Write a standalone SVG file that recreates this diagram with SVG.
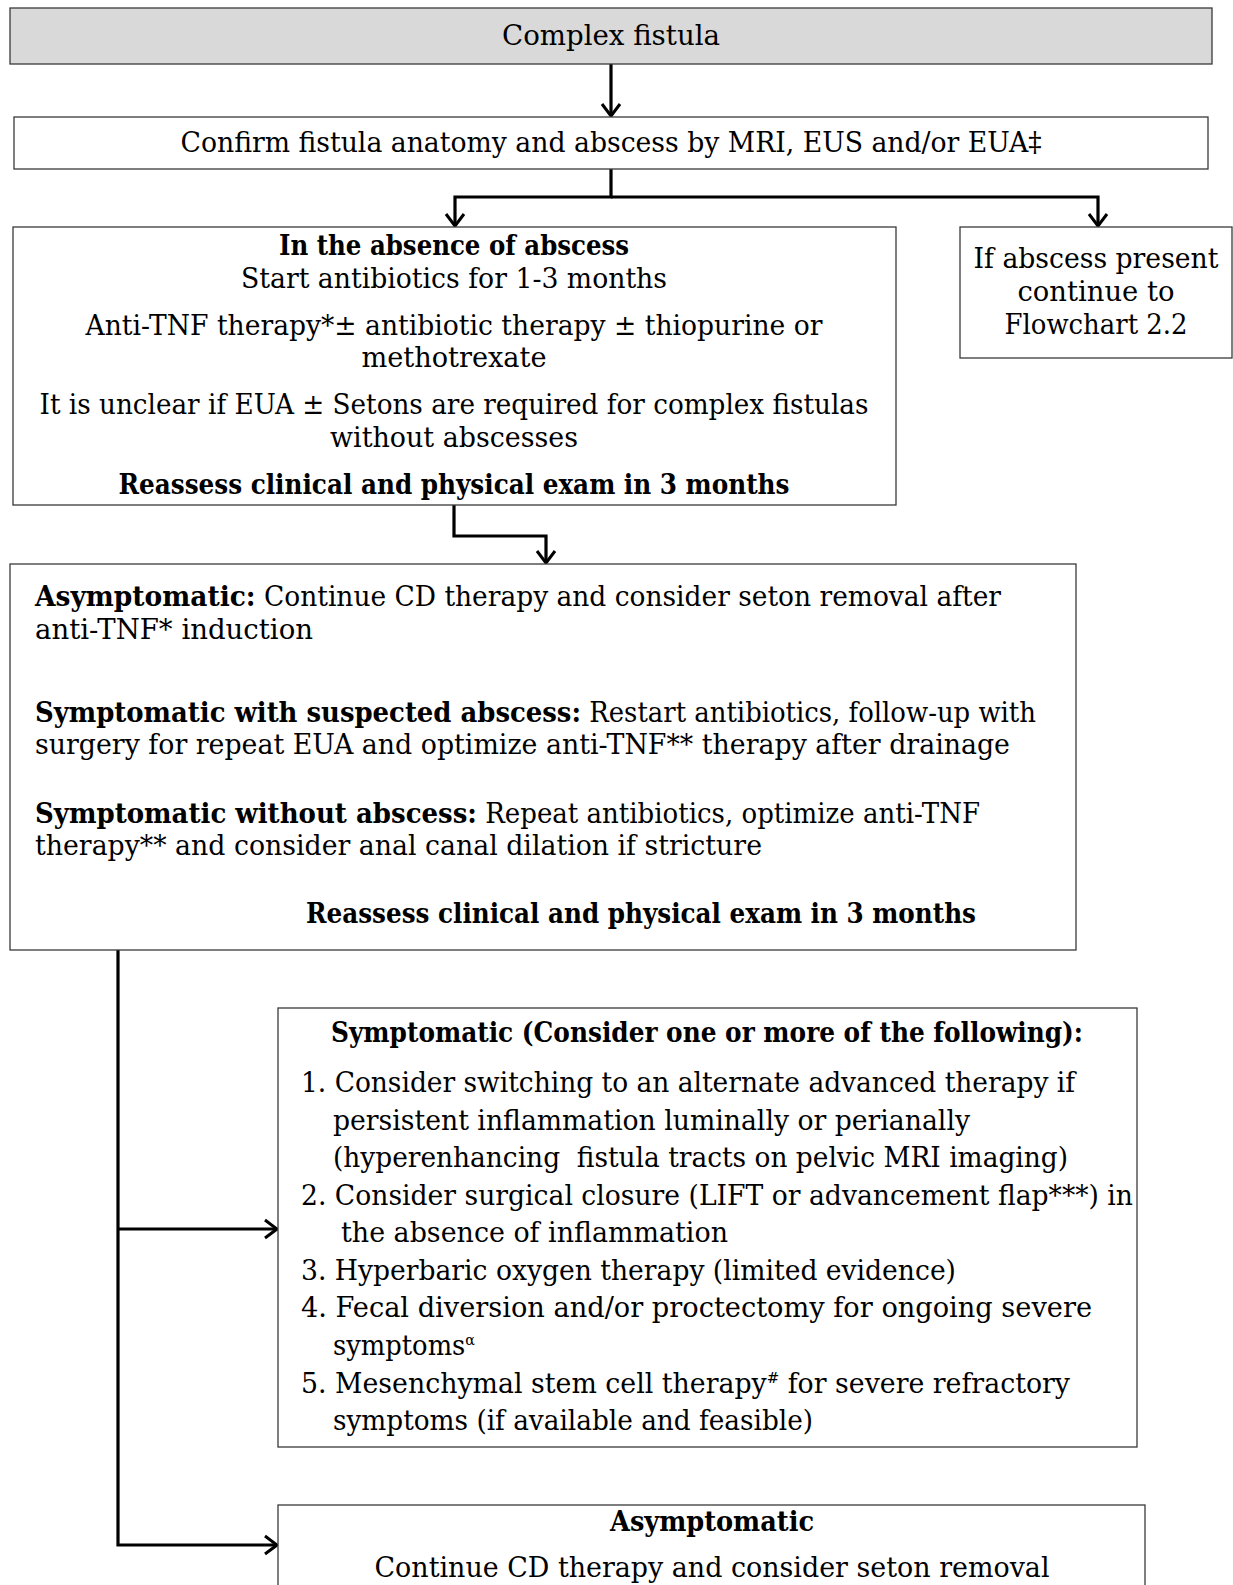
<svg xmlns="http://www.w3.org/2000/svg" width="1233" height="1585" viewBox="0 0 1233 1585">
<defs>
<style>
.box{fill:#ffffff;stroke:#3a3a3a;stroke-width:1.3}
.title{fill:#d9d9d9;stroke:#3a3a3a;stroke-width:1.3}
text{font-family:"DejaVu Serif Condensed","DejaVu Serif","Liberation Serif",serif;font-size:27px;fill:#000}
.c{text-anchor:middle}
.b{font-weight:bold}
.conn{fill:none;stroke:#000;stroke-width:3.2}
</style>
<marker id="arr" markerUnits="userSpaceOnUse" viewBox="-14 -11 16 22" refX="0" refY="0" markerWidth="16" markerHeight="22" orient="auto">
<path d="M-12,-9 L0,0 L-12,9" fill="none" stroke="#000" stroke-width="3"/>
</marker>
</defs>
<rect width="1233" height="1585" fill="#fff"/>

<g id="connectors">
<path class="conn" d="M611,64 V116" marker-end="url(#arr)"/>
<path class="conn" d="M611,169 V197 H455 V226" marker-end="url(#arr)"/>
<path class="conn" d="M611,197 H1098 V226" marker-end="url(#arr)"/>
<path class="conn" d="M454,505 V536 H546 V563" marker-end="url(#arr)"/>
<path class="conn" d="M118,950 V1545 H277" marker-end="url(#arr)"/>
<path class="conn" d="M118,1229 H277" marker-end="url(#arr)"/>
</g>

<g id="n-complex">
<rect class="title" x="10" y="8" width="1202" height="56"/>
<text class="c" x="611" y="45" font-size="28" textLength="218" lengthAdjust="spacingAndGlyphs">Complex fistula</text>
</g>

<g id="n-confirm">
<rect class="box" x="14" y="117" width="1194" height="52"/>
<text class="c" x="611" y="152" textLength="861" lengthAdjust="spacingAndGlyphs">Confirm fistula anatomy and abscess by MRI, EUS and/or EUA‡</text>
</g>

<g id="n-noabscess">
<rect class="box" x="13" y="227" width="883" height="278"/>
<text class="c b" x="454" y="255" textLength="350" lengthAdjust="spacingAndGlyphs">In the absence of abscess</text>
<text class="c" x="454" y="288" textLength="426" lengthAdjust="spacingAndGlyphs">Start antibiotics for 1-3 months</text>
<text class="c" x="454" y="335" textLength="737" lengthAdjust="spacingAndGlyphs">Anti-TNF therapy*± antibiotic therapy ± thiopurine or</text>
<text class="c" x="454" y="367" textLength="185" lengthAdjust="spacingAndGlyphs">methotrexate</text>
<text class="c" x="454" y="414" textLength="829" lengthAdjust="spacingAndGlyphs">It is unclear if EUA ± Setons are required for complex fistulas</text>
<text class="c" x="454" y="447" textLength="248" lengthAdjust="spacingAndGlyphs">without abscesses</text>
<text class="c b" x="454" y="494" textLength="671" lengthAdjust="spacingAndGlyphs">Reassess clinical and physical exam in 3 months</text>
</g>

<g id="n-abscess">
<rect class="box" x="960" y="227" width="272" height="131"/>
<text class="c" x="1096" y="268" textLength="245" lengthAdjust="spacingAndGlyphs">If abscess present</text>
<text class="c" x="1096" y="301" textLength="157" lengthAdjust="spacingAndGlyphs">continue to</text>
<text class="c" x="1096" y="334" textLength="183" lengthAdjust="spacingAndGlyphs">Flowchart 2.2</text>
</g>

<g id="n-reassess">
<rect class="box" x="10" y="564" width="1066" height="386"/>
<text x="35" y="606" textLength="966" lengthAdjust="spacingAndGlyphs"><tspan class="b">Asymptomatic:</tspan> Continue CD therapy and consider seton removal after</text>
<text x="35" y="639" textLength="278" lengthAdjust="spacingAndGlyphs">anti-TNF* induction</text>
<text x="35" y="722" textLength="1001" lengthAdjust="spacingAndGlyphs"><tspan class="b">Symptomatic with suspected abscess:</tspan> Restart antibiotics, follow-up with</text>
<text x="35" y="754" textLength="975" lengthAdjust="spacingAndGlyphs">surgery for repeat EUA and optimize anti-TNF** therapy after drainage</text>
<text x="35" y="823" textLength="945" lengthAdjust="spacingAndGlyphs"><tspan class="b">Symptomatic without abscess:</tspan> Repeat antibiotics, optimize anti-TNF</text>
<text x="35" y="855" textLength="727" lengthAdjust="spacingAndGlyphs">therapy** and consider anal canal dilation if stricture</text>
<text class="b" x="306" y="923" textLength="670" lengthAdjust="spacingAndGlyphs">Reassess clinical and physical exam in 3 months</text>
</g>

<g id="n-symptomatic">
<rect class="box" x="278" y="1008" width="859" height="439"/>
<text class="b" x="331" y="1042" textLength="752" lengthAdjust="spacingAndGlyphs">Symptomatic (Consider one or more of the following):</text>
<text x="301" y="1092" textLength="774" lengthAdjust="spacingAndGlyphs">1. Consider switching to an alternate advanced therapy if</text>
<text x="333" y="1130" textLength="637" lengthAdjust="spacingAndGlyphs">persistent inflammation luminally or perianally</text>
<text x="333" y="1167" textLength="735" lengthAdjust="spacingAndGlyphs" xml:space="preserve">(hyperenhancing  fistula tracts on pelvic MRI imaging)</text>
<text x="301" y="1205" textLength="832" lengthAdjust="spacingAndGlyphs">2. Consider surgical closure (LIFT or advancement flap***) in</text>
<text x="341" y="1242" textLength="387" lengthAdjust="spacingAndGlyphs">the absence of inflammation</text>
<text x="301" y="1280" textLength="655" lengthAdjust="spacingAndGlyphs">3. Hyperbaric oxygen therapy (limited evidence)</text>
<text x="301" y="1317" textLength="791" lengthAdjust="spacingAndGlyphs">4. Fecal diversion and/or proctectomy for ongoing severe</text>
<text x="333" y="1355" textLength="142" lengthAdjust="spacingAndGlyphs">symptoms<tspan font-size="15" dy="-10">α</tspan></text>
<text x="301" y="1393" textLength="769" lengthAdjust="spacingAndGlyphs">5. Mesenchymal stem cell therapy<tspan font-size="15" dy="-10">#</tspan><tspan dy="10"> for severe refractory</tspan></text>
<text x="333" y="1430" textLength="480" lengthAdjust="spacingAndGlyphs">symptoms (if available and feasible)</text>
</g>

<g id="n-asymptomatic">
<rect class="box" x="278" y="1505" width="867" height="90"/>
<text class="c b" x="712" y="1531" textLength="204" lengthAdjust="spacingAndGlyphs">Asymptomatic</text>
<text class="c" x="712" y="1577" textLength="675" lengthAdjust="spacingAndGlyphs">Continue CD therapy and consider seton removal</text>
</g>
</svg>
